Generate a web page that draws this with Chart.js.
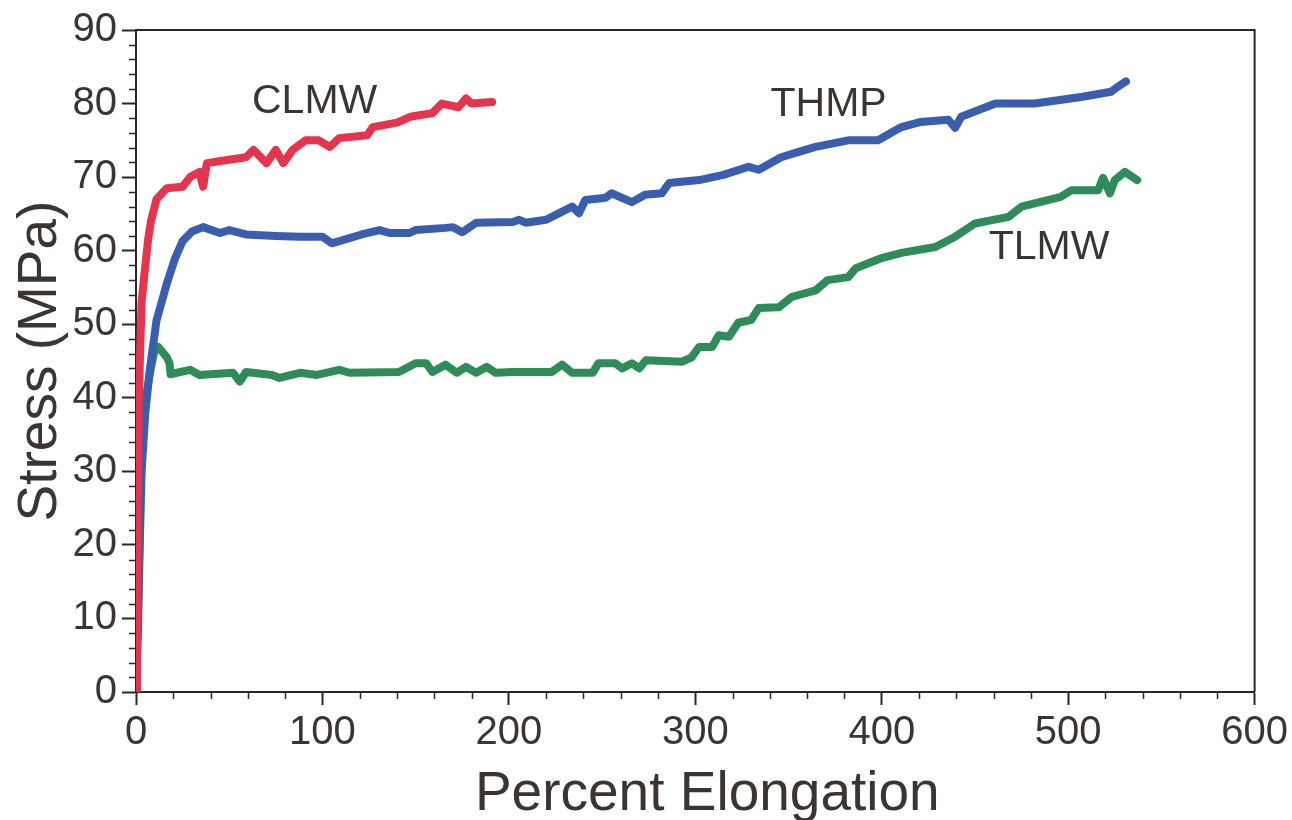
<!DOCTYPE html>
<html lang="en">
<head>
<meta charset="UTF-8">
<title>Stress vs Percent Elongation</title>
<script src="https://cdn.jsdelivr.net/npm/chart.js@4.4.0/dist/chart.umd.min.js"></script>
<style>
  html, body { margin: 0; padding: 0; background: #fff; }
</style>
</head>
<body>
<canvas id="stressChart" width="1292" height="820"></canvas>
<script>
// values (percent elongation, stress in MPa)
const clmwX = [0, 0.5, 1, 1.5, 3, 5, 6.5, 8, 11, 16.5, 25, 29, 34, 36, 38, 48, 59, 63, 70, 75, 79, 84, 91, 98, 104, 109, 124, 127, 140, 147, 159, 164, 173, 177, 180, 191];
const clmwY = [0, 10, 25, 40, 53, 58, 61.5, 64, 67, 68.5, 68.7, 70, 70.7, 68.7, 71.9, 72.3, 72.7, 73.7, 71.9, 73.7, 71.9, 73.7, 75, 75, 74.1, 75.3, 75.7, 76.8, 77.4, 78.2, 78.7, 80, 79.5, 80.7, 80, 80.2];

const thmpX = [0, 1, 2, 3, 5, 7.5, 11, 16.5, 21, 25, 30, 36, 45, 50, 59, 75, 88, 100, 105, 114.5, 121, 130.6, 136, 146.7, 150, 166, 170, 175, 182.5, 202, 205.5, 209, 220, 227, 234, 237.6, 241, 252, 255, 266, 273, 282, 286, 302, 315, 328.6, 334, 346, 355, 364.5, 382, 398, 410.5, 421, 435.7, 439.4, 442.6, 461, 482, 507, 523, 526.7, 531];
const thmpY = [0, 8, 20, 30, 38, 44, 50.5, 55.5, 59, 61.3, 62.6, 63.2, 62.4, 62.8, 62.2, 62, 61.9, 61.9, 61, 61.7, 62.2, 62.8, 62.4, 62.4, 62.8, 63.1, 63.2, 62.5, 63.8, 63.9, 64.2, 63.8, 64.2, 65.1, 66, 65.1, 66.9, 67.2, 67.8, 66.6, 67.6, 67.8, 69.2, 69.6, 70.3, 71.4, 71, 72.7, 73.4, 74.1, 75, 75, 76.8, 77.5, 77.8, 76.7, 78.2, 80, 80, 80.9, 81.6, 82.3, 83];

const tlmwX = [0, 1, 2, 3, 4.5, 7.5, 10, 12, 16.5, 18, 18.5, 22, 29, 34, 52, 55.7, 59, 73, 77, 88, 97, 109, 114.5, 141, 150, 155.6, 159, 166, 172, 177, 182.5, 188, 193, 202, 223, 228.5, 234, 245, 248, 257, 260.7, 266, 270, 273.5, 293, 298, 302, 309, 312.6, 318, 323, 330, 334, 344.7, 351.6, 364.5, 371, 382, 386, 400, 410.5, 428.7, 439.4, 450, 468, 475, 496, 501.6, 516, 518.7, 522.4, 525, 530.4, 537];
const tlmwY = [0, 10, 22, 33, 39, 43.4, 46.5, 46.9, 45.5, 44.7, 43.2, 43.4, 43.8, 43.1, 43.4, 42.2, 43.5, 43.1, 42.7, 43.4, 43.1, 43.8, 43.4, 43.5, 44.7, 44.7, 43.5, 44.5, 43.4, 44.2, 43.4, 44.2, 43.4, 43.5, 43.5, 44.5, 43.4, 43.4, 44.7, 44.7, 44, 44.7, 44, 45.1, 44.9, 45.5, 46.9, 46.9, 48.5, 48.3, 50.2, 50.6, 52.2, 52.3, 53.7, 54.6, 56, 56.4, 57.6, 59, 59.7, 60.5, 61.9, 63.7, 64.6, 66, 67.3, 68.2, 68.2, 69.9, 67.8, 69.6, 70.7, 69.6];

// curve names and where they sit on the plot (data units)
const curveNames = ['CLMW', 'THMP', 'TLMW'];
const nameX = [95.8, 371.5, 489.7];
const nameY = [80.3, 79.8, 60.4];

const textColor = '#3b3532';
const axisColor = '#2b2725';
const fontFamily = '"Liberation Sans", Arial, Helvetica, sans-serif';

function toPoints(xs, ys) {
    return xs.map((x, i) => ({ x: x, y: ys[i] }));
}

// box around the plot, minor ticks, curve names and the x title
const framePlugin = {
    id: 'frame',
    afterDatasetsDraw(chart) {
        const ctx = chart.ctx;
        const xs = chart.scales.x;
        const ys = chart.scales.y;
        ctx.save();
        ctx.fillStyle = textColor;
        ctx.font = '41px ' + fontFamily;
        ctx.textAlign = 'center';
        ctx.textBaseline = 'middle';
        curveNames.forEach((n, i) => {
            ctx.fillText(n, xs.getPixelForValue(nameX[i]), ys.getPixelForValue(nameY[i]));
        });
        ctx.restore();
    },
    afterDraw(chart) {
        const ctx = chart.ctx;
        const a = chart.chartArea;
        const xs = chart.scales.x;
        const ys = chart.scales.y;
        ctx.save();
        ctx.strokeStyle = axisColor;
        ctx.lineWidth = 2;
        ctx.beginPath();
        ctx.moveTo(a.left, a.top);
        ctx.lineTo(a.right, a.top);
        ctx.lineTo(a.right, a.bottom);
        ctx.stroke();

        ctx.lineWidth = 1.5;
        ctx.beginPath();
        for (let v = 20; v < 600; v += 20) {
            if (v % 100 === 0) continue;
            const px = Math.round(xs.getPixelForValue(v)) + 0.5;
            ctx.moveTo(px, a.bottom);
            ctx.lineTo(px, a.bottom + 7);
        }
        for (let v = 2; v < 90; v += 2) {
            if (v % 10 === 0) continue;
            const py = Math.round(ys.getPixelForValue(v)) + 0.5;
            ctx.moveTo(a.left, py);
            ctx.lineTo(a.left - 7, py);
        }
        ctx.stroke();

        // x title sits a little right of the plot centre in the original
        ctx.fillStyle = textColor;
        ctx.font = '55px ' + fontFamily;
        ctx.textAlign = 'center';
        ctx.textBaseline = 'alphabetic';
        ctx.fillText('Percent Elongation', (a.left + a.right) / 2 + 12, 810);
        ctx.restore();
    }
};

const ctx = document.getElementById('stressChart').getContext('2d');
new Chart(ctx, {
    type: 'line',
    data: {
        datasets: [
            { label: 'CLMW', data: toPoints(clmwX, clmwY), borderColor: '#e4344e' },
            { label: 'THMP', data: toPoints(thmpX, thmpY), borderColor: '#3a5eae' },
            { label: 'TLMW', data: toPoints(tlmwX, tlmwY), borderColor: '#2f8c58' }
        ]
    },
    options: {
        responsive: false,
        devicePixelRatio: 1,
        animation: false,
        layout: { padding: { top: 30, right: 35, left: 0, bottom: 0 } },
        elements: {
            line: { borderWidth: 8, tension: 0, borderJoinStyle: 'round', borderCapStyle: 'round' },
            point: { radius: 0 }
        },
        plugins: {
            legend: { display: false },
            tooltip: { enabled: false }
        },
        scales: {
            x: {
                type: 'linear',
                min: 0,
                max: 600,
                afterFit: s => { s.height = 128; },
                ticks: { stepSize: 100, color: textColor, padding: 4, font: { family: fontFamily, size: 40 } },
                grid: { drawOnChartArea: false, tickLength: 13, tickColor: axisColor, tickWidth: 2 },
                border: { color: axisColor, width: 2 }
            },
            y: {
                min: 0,
                max: 90,
                afterFit: s => { s.width = 136; },
                ticks: { stepSize: 10, color: textColor, padding: 5, font: { family: fontFamily, size: 40 } },
                grid: { drawOnChartArea: false, tickLength: 14, tickColor: axisColor, tickWidth: 2 },
                border: { color: axisColor, width: 2 },
                title: {
                    display: true,
                    text: 'Stress (MPa)',
                    color: textColor,
                    padding: { top: 13, bottom: 0 },
                    font: { family: fontFamily, size: 55, lineHeight: 1 }
                }
            }
        }
    },
    plugins: [framePlugin]
});
</script>
</body>
</html>
